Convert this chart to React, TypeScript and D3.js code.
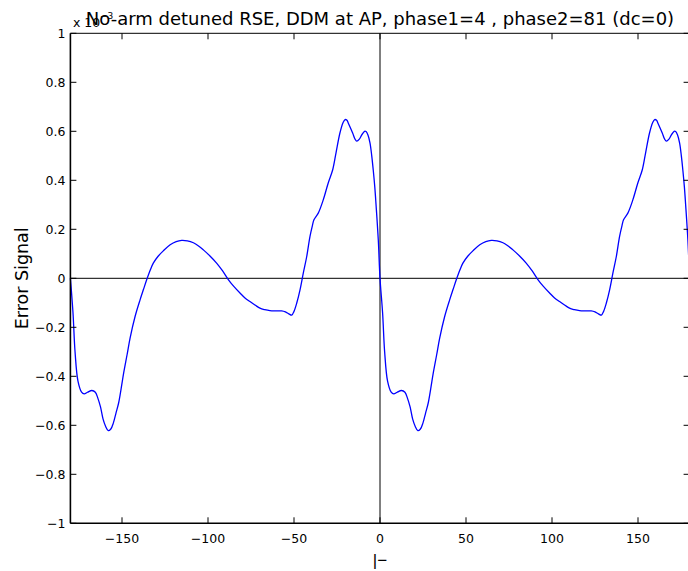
import React from "react";
import * as d3 from "d3";

const phase: number[] = [
  -180, -178.5, -177.3, -175.6, -173.5, -172, -170, -167.5, -165.5, -164, -162.5, -161, -159.5, -158, -156.5, -155, -153.5, -152, -150.5, -149, -147, -145.3, -142.4, -139.5, -137.5, -135.6, -133.5, -131.8, -129, -126, -122, -118.5, -115.3, -112, -108.5, -105.5, -102.7, -99, -95, -91.5, -88.2, -85, -81.4, -78.5, -75.6, -72.5, -69.8, -67, -64, -61, -57.2, -55, -53, -51.3, -50, -48.4, -46.5, -44.6, -42.6, -40.7, -39.3, -38.4, -35.9, -33, -30.1, -27.5, -25.6, -23.3, -21.5, -20.3, -19.2, -18.4, -15.9, -14.5, -13.5, -12, -10.6, -9, -8.1, -7, -5.8, -4.8, -3.9, -3, -2.3, -1,
  0, 1.5, 2.7, 4.4, 6.5, 8, 10, 12.5, 14.5, 16, 17.5, 19, 20.5, 22, 23.5, 25, 26.5, 28, 29.5, 31, 33, 34.7, 37.6, 40.5, 42.5, 44.4, 46.5, 48.2, 51, 54, 58, 61.5, 64.7, 68, 71.5, 74.5, 77.3, 81, 85, 88.5, 91.8, 95, 98.6, 101.5, 104.4, 107.5, 110.2, 113, 116, 119, 122.8, 125, 127, 128.7, 130, 131.6, 133.5, 135.4, 137.4, 139.3, 140.7, 141.6, 144.1, 147, 149.9, 152.5, 154.4, 156.7, 158.5, 159.7, 160.8, 161.6, 164.1, 165.5, 166.5, 168, 169.4, 171, 171.9, 173, 174.2, 175.2, 176.1, 177, 177.7, 179, 180,
];

const errorSignal: number[] = [
  0, -0.14, -0.3, -0.42, -0.465, -0.472, -0.465, -0.458, -0.465, -0.49, -0.525, -0.575, -0.605, -0.622, -0.615, -0.59, -0.55, -0.51, -0.45, -0.385, -0.31, -0.244, -0.156, -0.088, -0.045, -0.005, 0.035, 0.062, 0.09, 0.112, 0.137, 0.15, 0.155, 0.153, 0.145, 0.132, 0.116, 0.092, 0.062, 0.03, -0.005, -0.033, -0.06, -0.08, -0.095, -0.11, -0.122, -0.128, -0.132, -0.133, -0.133, -0.137, -0.145, -0.15, -0.135, -0.101, -0.047, 0.021, 0.089, 0.171, 0.215, 0.239, 0.266, 0.32, 0.389, 0.443, 0.511, 0.593, 0.635, 0.648, 0.645, 0.633, 0.593, 0.568, 0.56, 0.568, 0.585, 0.6, 0.599, 0.585, 0.552, 0.5, 0.44, 0.37, 0.3, 0.157,
  0, -0.14, -0.3, -0.42, -0.465, -0.472, -0.465, -0.458, -0.465, -0.49, -0.525, -0.575, -0.605, -0.622, -0.615, -0.59, -0.55, -0.51, -0.45, -0.385, -0.31, -0.244, -0.156, -0.088, -0.045, -0.005, 0.035, 0.062, 0.09, 0.112, 0.137, 0.15, 0.155, 0.153, 0.145, 0.132, 0.116, 0.092, 0.062, 0.03, -0.005, -0.033, -0.06, -0.08, -0.095, -0.11, -0.122, -0.128, -0.132, -0.133, -0.133, -0.137, -0.145, -0.15, -0.135, -0.101, -0.047, 0.021, 0.089, 0.171, 0.215, 0.239, 0.266, 0.32, 0.389, 0.443, 0.511, 0.593, 0.635, 0.648, 0.645, 0.633, 0.593, 0.568, 0.56, 0.568, 0.585, 0.6, 0.599, 0.585, 0.552, 0.5, 0.44, 0.37, 0.3, 0.157, 0,
];

const xTicks: number[] = [-150, -100, -50, 0, 50, 100, 150];
const yTicks: number[] = [-1, -0.8, -0.6, -0.4, -0.2, 0, 0.2, 0.4, 0.6, 0.8, 1];

const titleText = "No-arm detuned RSE, DDM at AP, phase1=4 , phase2=81 (dc=0)";
const xLabel = "|\u2212";
const yLabel = "Error Signal";

const W = 688;
const H = 571;
const L = 70.4;
const R = 689.6;
const T = 33.3;
const B = 523.3;
const FONT = "'DejaVu Sans', 'Liberation Sans', sans-serif";

const fmt = (v: number) => {
  const s = Number.isInteger(v) ? String(v) : String(+v.toFixed(1));
  return s.replace("-", "\u2212");
};

export default function App() {
  const x = d3.scaleLinear().domain([-180, 180]).range([L, R]);
  const y = d3.scaleLinear().domain([-1, 1]).range([B, T]);
  const pts: [number, number][] = phase.map((p, i) => [p, errorSignal[i]]);
  const line = d3
    .line<[number, number]>()
    .x((d) => x(d[0]))
    .y((d) => y(d[1]))
    .curve(d3.curveCatmullRom.alpha(0.5));
  const tick = 6;
  return (
    <svg
      width={W}
      height={H}
      style={{ position: "absolute", left: 0, top: 0, background: "#fff" }}
      fontFamily={FONT}
    >
      <rect x={0} y={0} width={W} height={H} fill="#fff" />
      {/* zero lines */}
      <line x1={L} x2={R} y1={y(0)} y2={y(0)} stroke="#000" strokeWidth={1} />
      <line x1={x(0)} x2={x(0)} y1={T} y2={B} stroke="#000" strokeWidth={1} />
      {/* data */}
      <path d={line(pts) || ""} fill="none" stroke="#0000ff" strokeWidth={1.3} />
      {/* box */}
      <line x1={L} x2={R} y1={T} y2={T} stroke="#000" strokeWidth={1} />
      <line x1={R} x2={R} y1={T} y2={B} stroke="#000" strokeWidth={1} />
      <line x1={L} x2={R} y1={B} y2={B} stroke="#000" strokeWidth={1.6} />
      <line x1={L} x2={L} y1={T} y2={B} stroke="#000" strokeWidth={1.6} />
      {/* x ticks */}
      {xTicks.map((t) => (
        <g key={"xt" + t}>
          <line x1={x(t)} x2={x(t)} y1={B} y2={B - tick} stroke="#000" strokeWidth={1} />
          <line x1={x(t)} x2={x(t)} y1={T} y2={T + tick} stroke="#000" strokeWidth={1} />
          <text x={x(t)} y={B + 20} fontSize={12.5} textAnchor="middle" fill="#000">
            {fmt(t)}
          </text>
        </g>
      ))}
      {/* y ticks */}
      {yTicks.map((t) => (
        <g key={"yt" + t}>
          <line x1={L} x2={L + tick} y1={y(t)} y2={y(t)} stroke="#000" strokeWidth={1} />
          <line x1={R - tick} x2={R} y1={y(t)} y2={y(t)} stroke="#000" strokeWidth={1} />
          <text x={L - 5} y={y(t) + 4.5} fontSize={12.5} textAnchor="end" fill="#000">
            {fmt(t)}
          </text>
        </g>
      ))}
      {/* exponent */}
      <text x={73} y={27} fontSize={12.5} fill="#000">
        x 10
      </text>
      <text x={100} y={19} fontSize={9} fill="#000">
        {"\u22123"}
      </text>
      {/* title */}
      <text x={(L + R) / 2} y={25} fontSize={18} textAnchor="middle" fill="#000">
        {titleText}
      </text>
      {/* axis labels */}
      <text
        x={x(0)}
        y={566}
        fontSize={17}
        textAnchor="middle"
        fill="#000"
        fontFamily="'Liberation Sans', sans-serif"
      >
        {xLabel}
      </text>
      <text
        transform={`translate(28, ${(T + B) / 2}) rotate(-90)`}
        fontSize={17.5}
        textAnchor="middle"
        fill="#000"
      >
        {yLabel}
      </text>
    </svg>
  );
}
